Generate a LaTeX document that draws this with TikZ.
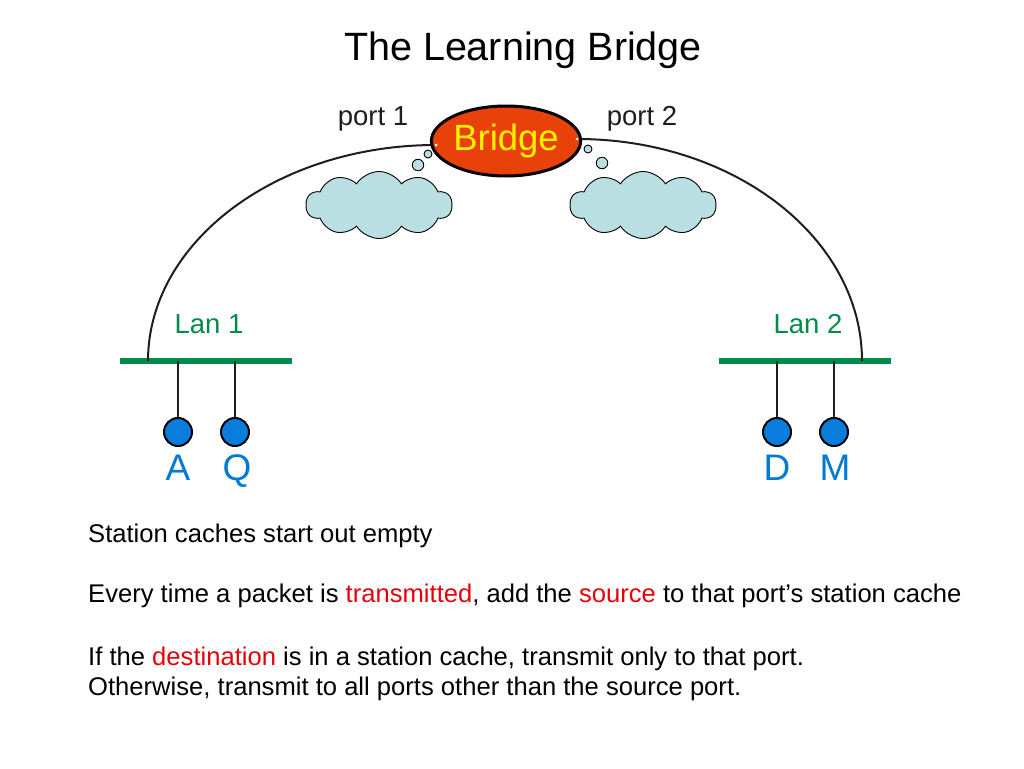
\documentclass[tikz,border=0pt]{standalone}
\usepackage{fontspec}
\setmainfont{Liberation Sans}
\usetikzlibrary{shapes.symbols,shapes.geometric}
\definecolor{bridgeorange}{RGB}{232,66,10}
\definecolor{cloudfill}{RGB}{186,223,227}
\definecolor{stationblue}{RGB}{10,125,220}
\definecolor{labelblue}{RGB}{0,122,210}
\definecolor{langreen}{RGB}{0,140,72}
\definecolor{hotred}{RGB}{230,0,10}
\definecolor{inkgray}{RGB}{30,30,30}
\tikzset{
  bodytext/.style={anchor=base west,inner sep=0pt,font=\fontsize{25.6}{30}\selectfont},
  portlabel/.style={inner sep=0pt,font=\fontsize{27.5}{30}\selectfont,text=inkgray},
  lanlabel/.style={inner sep=0pt,font=\fontsize{27.5}{30}\selectfont,text=langreen},
  lanbar/.style={fill=langreen,inner sep=0pt,minimum width=172pt,minimum height=6pt},
  station/.style={circle,draw=black,line width=2pt,fill=stationblue,minimum size=28pt,inner sep=0pt},
  stationlabel/.style={anchor=base,inner sep=0pt,font=\fontsize{37}{40}\selectfont,text=labelblue},
  thought/.style={cloud,cloud puffs=10,cloud puff arc=115,cloud ignores aspect,draw=black,line width=0.9pt,fill=cloudfill,minimum width=146pt,minimum height=67pt,inner sep=0pt},
  bubble/.style={circle,draw=black,line width=0.9pt,fill=cloudfill,inner sep=0pt},
  wire/.style={line width=2pt,draw=inkgray},
  drop/.style={line width=2pt,draw=inkgray},
  joint/.style={circle,fill=white,inner sep=0pt,minimum size=3pt}
}
\begin{document}
\begin{tikzpicture}[x=1pt,y=-1pt]
\useasboundingbox (0,0) rectangle (1024,768);
% title
\node[inner sep=0pt,anchor=base,font=\fontsize{39.5}{44}\selectfont] (title) at (523,60) {The Learning Bridge};
% clouds and bubbles
\node[thought] (cloudL) at (379,205) {};
\node[thought] (cloudR) at (643,205) {};
\node[bubble,minimum size=11.5pt] (bubL2) at (418,165) {};
\node[bubble,minimum size=8pt] (bubL1) at (428,154) {};
\node[bubble,minimum size=11.5pt] (bubR2) at (602,163) {};
\node[bubble,minimum size=8pt] (bubR1) at (588,149) {};
% LAN bars
\node[lanbar] (lan1) at (206,361) {};
\node[lanbar] (lan2) at (805,361) {};
% connection points
\coordinate (p1) at (436,145);
\coordinate (p2) at (577,139);
\coordinate (l1) at (148,361);
\coordinate (l2) at (862,361);
% arcs
\draw[wire] (p1) .. controls (277,145) and (148,242) .. (l1);
\draw[wire] (p2) .. controls (734,139) and (862,238) .. (l2);
% bridge
\node[ellipse,draw=black,line width=3pt,fill=bridgeorange,minimum width=143pt,minimum height=70pt,inner sep=0pt,font=\fontsize{36.5}{40}\selectfont,text={rgb,255:red,255;green,240;blue,0}] (bridge) at (506,141) {\raisebox{3pt}{Bridge}};
\node[joint] (j1) at (p1) {};
\node[joint] (j2) at (p2) {};
% port labels
\node[portlabel] (port1) at (373,119) {port 1};
\node[portlabel] (port2) at (642,119) {port 2};
% LAN labels
\node[lanlabel] (lan1lbl) at (209,324) {Lan 1};
\node[lanlabel] (lan2lbl) at (808,324) {Lan 2};
% stations
\node[station] (A) at (178,432) {};
\node[station] (Q) at (235,432) {};
\node[station] (D) at (777,432) {};
\node[station] (M) at (834,432) {};
\draw[drop] (A |- lan1.center) -- (A);
\draw[drop] (Q |- lan1.center) -- (Q);
\draw[drop] (D |- lan2.center) -- (D);
\draw[drop] (M |- lan2.center) -- (M);
\node[stationlabel] (Albl) at (178,480) {A};
\node[stationlabel] (Qlbl) at (237,480) {Q};
\node[stationlabel] (Dlbl) at (777,480) {D};
\node[stationlabel] (Mlbl) at (835,480) {M};
% body text
\node[bodytext] (t1) at (88,542) {Station caches start out empty};
\node[bodytext] (t2) at (88,602) {Every time a packet is \textcolor{hotred}{transmitted}, add the \textcolor{hotred}{source} to that port’s station cache};
\node[bodytext] (t3) at (88,665) {If the \textcolor{hotred}{destination} is in a station cache, transmit only to that port.};
\node[bodytext] (t4) at (88,695) {Otherwise, transmit to all ports other than the source port.};
\end{tikzpicture}
\end{document}
